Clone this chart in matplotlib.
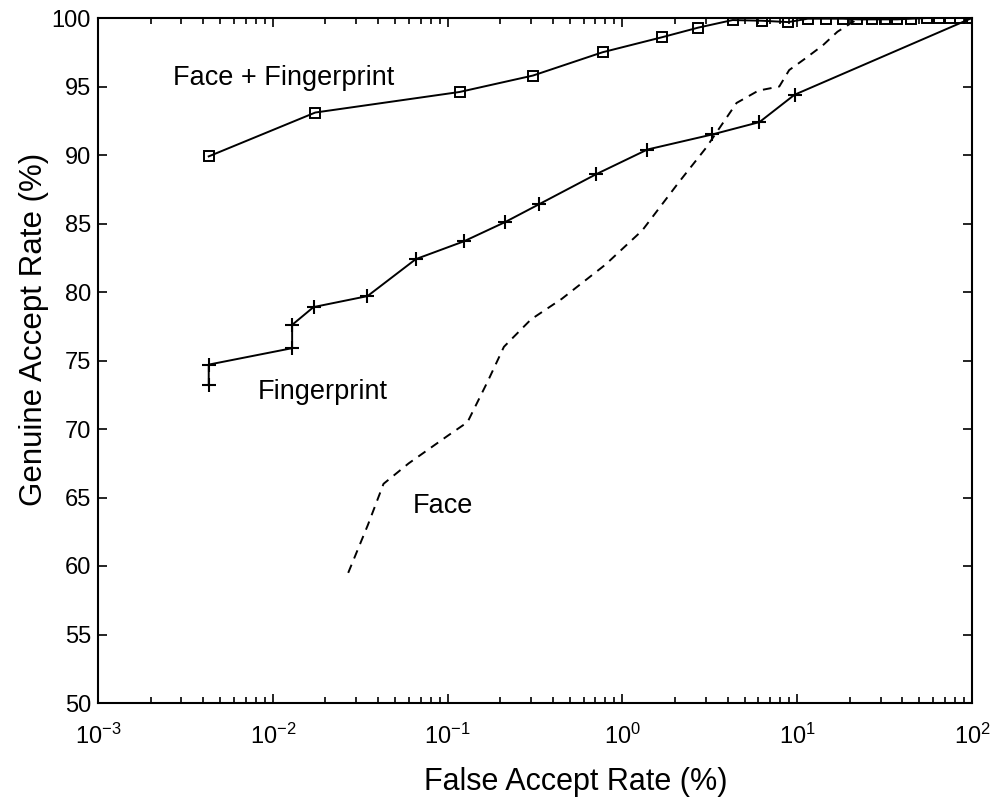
import matplotlib
matplotlib.use("Agg")
import matplotlib.pyplot as plt
from matplotlib.ticker import LogLocator, FixedLocator, NullFormatter

plt.rcParams['font.family'] = ['Liberation Sans', 'DejaVu Sans']
plt.rcParams['mathtext.fontset'] = 'custom'
plt.rcParams['mathtext.rm'] = 'Liberation Sans'
plt.rcParams['mathtext.it'] = 'Liberation Sans:italic'

# Face + Fingerprint
fusion_far = [0.0043, 0.0175, 0.117, 0.308, 0.77, 1.69, 2.72, 4.27, 6.3, 8.9,
              11.5, 14.7, 18.3, 22.1, 26.9, 31.7, 37.3, 45, 55, 65, 75, 85, 100]
fusion_gar = [89.9, 93.1, 94.6, 95.8, 97.5, 98.6, 99.3, 99.85, 99.8, 99.7,
              99.95, 99.95, 99.95, 99.9, 99.9, 99.9, 99.9, 99.95, 100, 100, 100, 100, 100]

# Fingerprint
finger_far = [0.0043, 0.0043, 0.0129, 0.0129, 0.0171, 0.0348, 0.0658, 0.124,
              0.213, 0.333, 0.708, 1.39, 3.27, 6.08, 9.66, 100]
finger_gar = [73.2, 74.7, 75.9, 77.6, 78.9, 79.7, 82.4, 83.7,
              85.1, 86.4, 88.6, 90.4, 91.5, 92.4, 94.4, 100]

# Face
face_far = [0.027, 0.035, 0.043, 0.06, 0.10, 0.13, 0.17, 0.21, 0.30, 0.45,
            0.8, 1.3, 2.1, 3.0, 4.5, 6.0, 7.9, 9.0, 11, 14, 17, 22, 40, 100]
face_gar = [59.5, 63, 66, 67.5, 69.5, 70.5, 73.5, 76, 78, 79.5,
            82, 84.5, 88, 90.5, 93.8, 94.7, 95.0, 96.2, 97, 98, 99, 99.9, 100, 100]

y_ticks = [50, 55, 60, 65, 70, 75, 80, 85, 90, 95, 100]

W, H = 991, 800
fig = plt.figure(figsize=(W / 100, H / 100), dpi=100)
ax = fig.add_axes([98 / W, 97 / H, 874 / W, 685 / H])

ax.plot(fusion_far, fusion_gar, color='black', lw=1.4, marker='s', ms=7.5,
        mfc='none', mec='black', mew=1.4)
ax.plot(finger_far, finger_gar, color='black', lw=1.4, marker='+', ms=9.5,
        mew=1.5)
ax.plot(face_far, face_gar, color='black', lw=1.4, ls=(0, (4.5, 3.5)))

ax.set_xscale('log')
ax.set_xlim(1e-3, 1e2)
ax.set_ylim(50, 100)
ax.yaxis.set_major_locator(FixedLocator(y_ticks))
ax.xaxis.set_major_locator(LogLocator(base=10, numticks=10))
ax.xaxis.set_minor_locator(LogLocator(base=10, subs=range(2, 10), numticks=20))
ax.xaxis.set_minor_formatter(NullFormatter())

ax.tick_params(which='both', direction='in', top=True, right=True,
               labelsize=17, width=1.2)
ax.tick_params(which='major', length=6.5)
ax.tick_params(which='minor', length=4)
ax.tick_params(axis='y', pad=5)
ax.tick_params(axis='x', pad=15)
for s in ax.spines.values():
    s.set_linewidth(1.5)

fig.text(576 / W, 1 - 790 / H, 'False Accept Rate (%)', fontsize=22,
         ha='center', va='baseline')
fig.text(34 / W, 1 - 329 / H, 'Genuine Accept Rate (%)', fontsize=22.5,
         ha='center', va='center', rotation=90)

ax.text(0.00268, 95.11, 'Face + Fingerprint', fontsize=19.5, va='baseline', ha='left')
ax.text(0.00822, 72.19, 'Fingerprint', fontsize=19.5, va='baseline', ha='left')
ax.text(0.0634, 63.87, 'Face', fontsize=19.5, va='baseline', ha='left')

fig.savefig('out.png', dpi=100)
